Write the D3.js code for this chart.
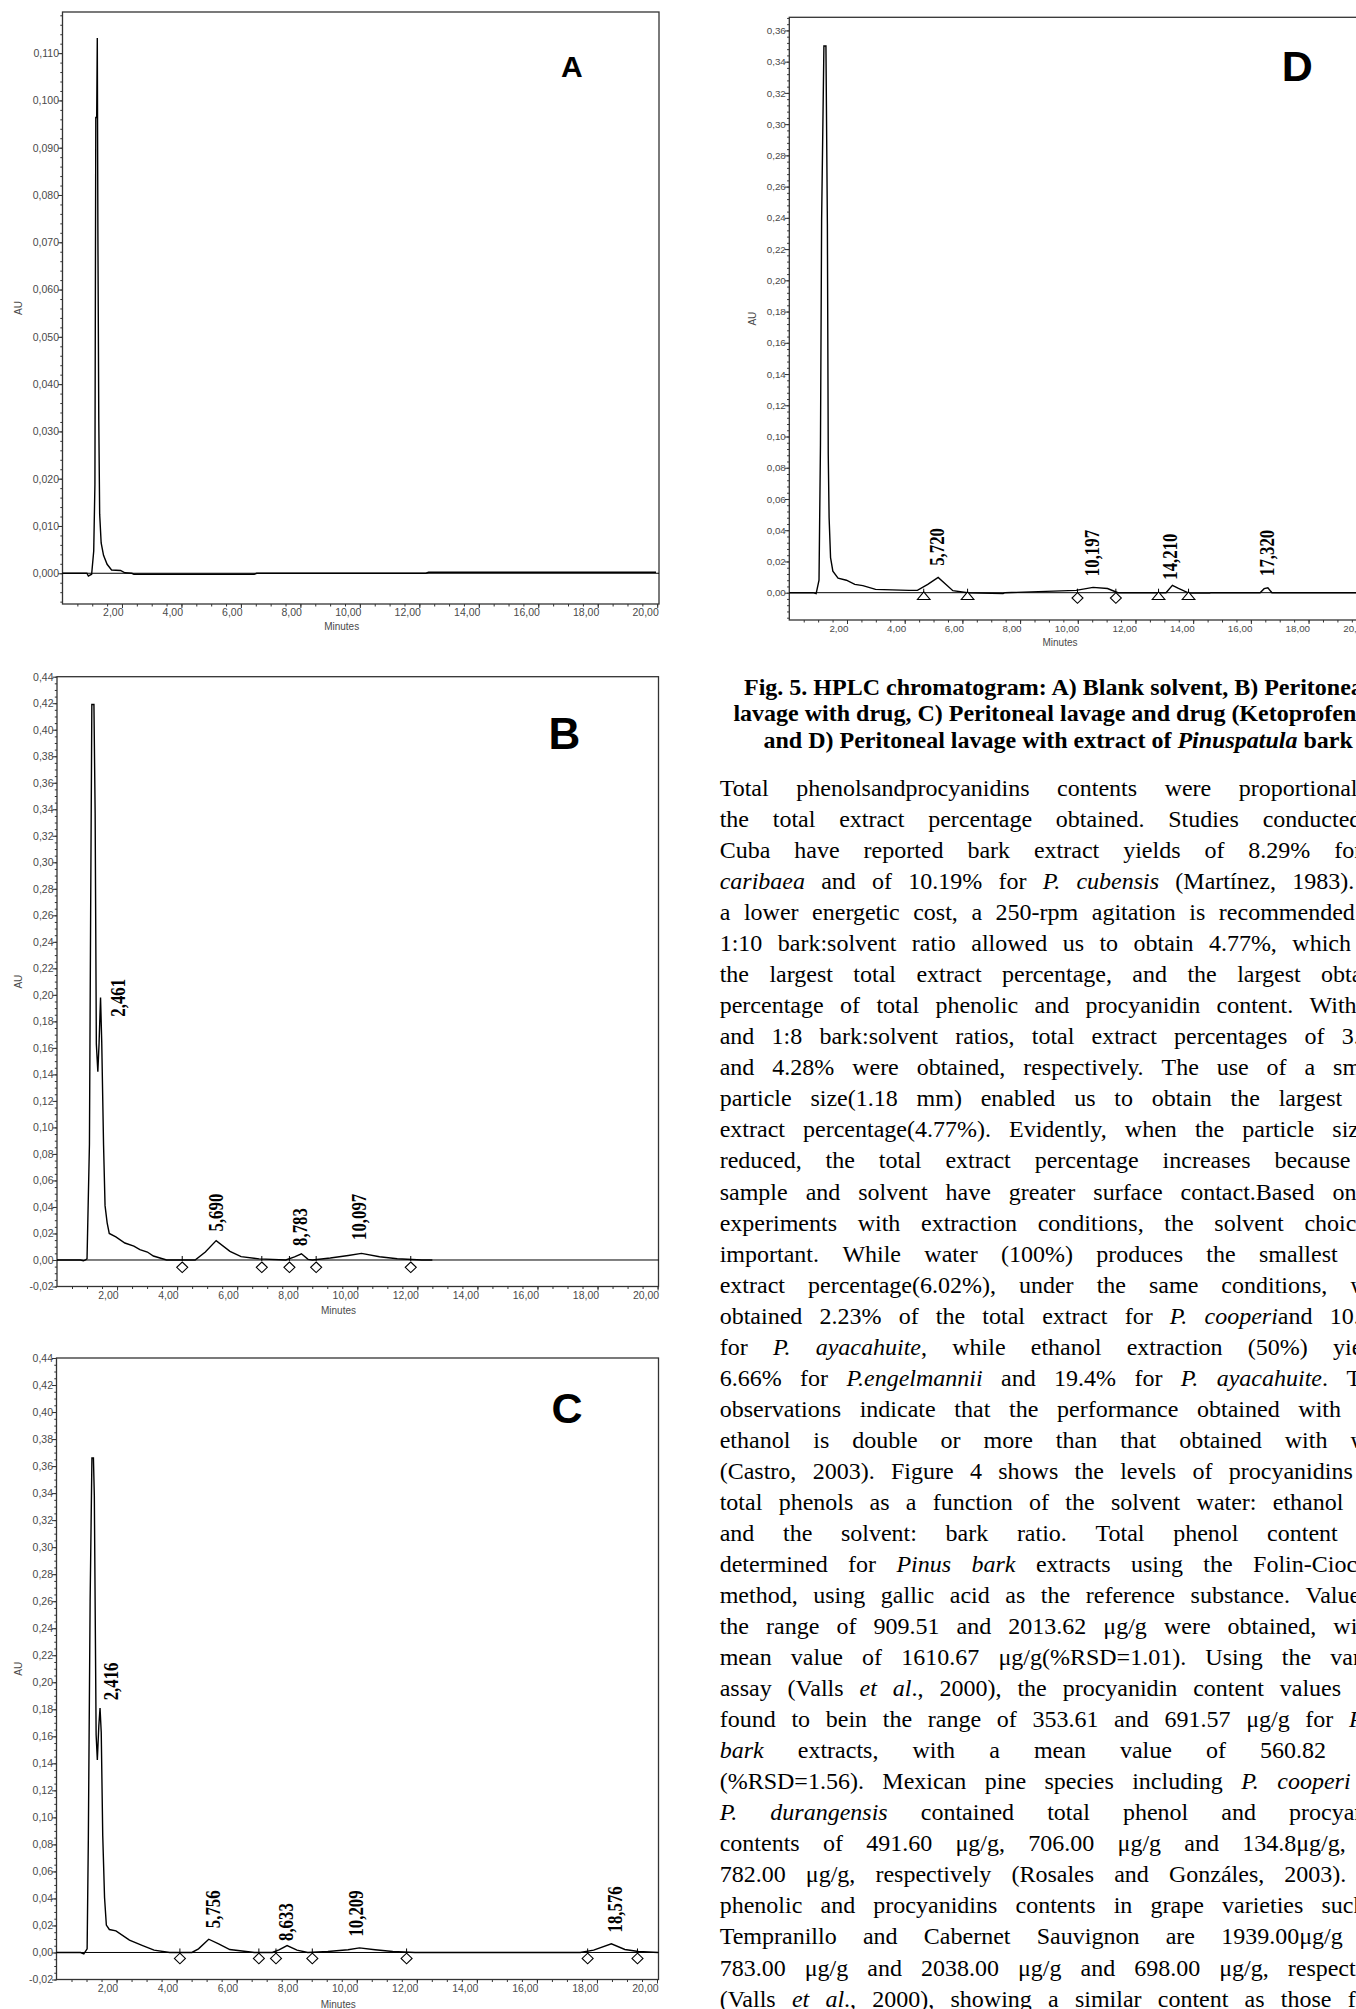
<!DOCTYPE html>
<html>
<head>
<meta charset="utf-8">
<script src="https://cdn.jsdelivr.net/npm/d3@7"></script>
<style>
html, body { margin: 0; padding: 0; background: #fff; }
body { width: 1356px; height: 2009px; overflow: hidden; }
svg { display: block; }
</style>
</head>
<body>
<script>
'use strict';

// ---- values ----
var minuteTicks = [2, 4, 6, 8, 10, 12, 14, 16, 18, 20];
var auTicksA = [0, 0.01, 0.02, 0.03, 0.04, 0.05, 0.06, 0.07, 0.08, 0.09, 0.10, 0.11];
var auTicksBC = [-0.02, 0, 0.02, 0.04, 0.06, 0.08, 0.10, 0.12, 0.14, 0.16, 0.18, 0.20, 0.22,
    0.24, 0.26, 0.28, 0.30, 0.32, 0.34, 0.36, 0.38, 0.40, 0.42, 0.44];
var auTicksD = [0, 0.02, 0.04, 0.06, 0.08, 0.10, 0.12, 0.14, 0.16, 0.18, 0.20, 0.22, 0.24,
    0.26, 0.28, 0.30, 0.32, 0.34, 0.36];

// traces: [minutes, AU]
var traceA = [[0, 0], [0.82, 0], [0.87, -0.0006], [0.98, -0.0002], [1.05, 0.0047], [1.09, 0.0187],
    [1.12, 0.0964], [1.15, 0.0964], [1.17, 0.1132], [1.19, 0.0725], [1.22, 0.0325], [1.25, 0.0125],
    [1.30, 0.0064], [1.38, 0.0038], [1.50, 0.0019], [1.65, 0.0007], [1.95, 0.0006], [2.10, 0.0001],
    [2.33, 0], [2.40, -0.0002], [6.45, -0.0002], [6.53, 0], [12.22, 0], [12.31, 0.0002], [19.96, 0.0002]];

var traceB = [[0, 0], [0.78, 0], [0.88, -0.0006], [0.95, 0], [1.00, 0.001], [1.08, 0.087], [1.12, 0.261],
    [1.16, 0.419], [1.23, 0.419], [1.27, 0.337], [1.31, 0.163], [1.36, 0.142], [1.40, 0.163], [1.45, 0.198],
    [1.49, 0.164], [1.55, 0.087], [1.60, 0.041], [1.67, 0.028], [1.74, 0.020], [1.96, 0.0174], [2.26, 0.0128],
    [2.56, 0.0104], [2.76, 0.0078], [3.01, 0.006], [3.21, 0.003], [3.65, 0], [4.60, 0], [4.94, 0.006],
    [5.30, 0.0146], [5.76, 0.0065], [6.13, 0.0025], [6.73, 0.0008], [7.62, 0], [7.91, 0.0024], [8.14, 0.0047],
    [8.36, 0.0005], [8.51, 0], [9.10, 0.0015], [9.70, 0.0034], [10.14, 0.005], [10.74, 0.0024], [11.33, 0.0009],
    [12.15, 0], [12.50, 0]];

var traceC = [[0, 0], [0.80, 0], [0.91, -0.001], [1.02, 0.0027], [1.06, 0.083], [1.12, 0.26], [1.18, 0.366],
    [1.23, 0.366], [1.26, 0.338], [1.32, 0.161], [1.36, 0.1425], [1.41, 0.168], [1.45, 0.181], [1.49, 0.163],
    [1.54, 0.0865], [1.60, 0.0407], [1.66, 0.0203], [1.76, 0.017], [1.98, 0.016], [2.43, 0.0092], [2.87, 0.0051],
    [3.25, 0.0017], [3.77, 0], [4.51, 0], [4.73, 0.0027], [5.07, 0.0098], [5.40, 0.0064], [5.77, 0.0022],
    [6.59, 0], [7.19, 0], [7.41, 0.002], [7.68, 0.0051], [8.01, 0.0017], [8.37, 0], [9.04, 0.0007],
    [9.71, 0.002], [10.09, 0.0034], [10.61, 0.002], [11.20, 0.0007], [11.94, 0], [17.44, 0], [17.89, 0.0017],
    [18.48, 0.0064], [18.93, 0.0022], [19.38, 0.0007], [20.04, 0]];

var traceD = [[0, 0], [0.82, 0], [0.93, -0.0006], [1.03, 0.008], [1.08, 0.094], [1.12, 0.238], [1.20, 0.35],
    [1.27, 0.35], [1.32, 0.236], [1.35, 0.089], [1.38, 0.048], [1.43, 0.0225], [1.51, 0.0138], [1.69, 0.0093],
    [1.98, 0.008], [2.27, 0.0053], [2.55, 0.0045], [2.99, 0.0021], [4.15, 0.0015], [4.44, 0.0015],
    [4.80, 0.0053], [5.16, 0.0098], [5.67, 0.0013], [6.18, 0], [7.41, -0.0006], [7.48, 0], [9.94, 0.0015],
    [10.53, 0.0034], [11.03, 0.0027], [11.39, 0], [13.06, 0], [13.28, 0.0047], [13.49, 0.0027],
    [13.85, -0.0003], [14.58, -0.0003], [14.62, 0], [16.32, 0], [16.46, 0.0026], [16.59, 0.0032],
    [16.73, 0], [20.05, 0]];

// peak labels: where the rotated text starts, [minutes, AU]
var peaksB = [{ t: 2.04, au: 0.1835, name: '2,461' }, { t: 5.29, au: 0.0215, name: '5,690' },
    { t: 8.09, au: 0.0106, name: '8,783' }, { t: 10.07, au: 0.0151, name: '10,097' }];
var peaksC = [{ t: 1.83, au: 0.1866, name: '2,416' }, { t: 5.22, au: 0.018, name: '5,756' },
    { t: 7.66, au: 0.0085, name: '8,633' }, { t: 9.98, au: 0.0118, name: '10,209' },
    { t: 18.6, au: 0.0148, name: '18,576' }];
var peaksD = [{ t: 5.12, au: 0.0172, name: '5,720' }, { t: 10.49, au: 0.0106, name: '10,197' },
    { t: 13.21, au: 0.0083, name: '14,210' }, { t: 16.56, au: 0.0107, name: '17,320' }];

// integration marks (minutes)
var diamondsB = [4.17, 6.82, 7.74, 8.63, 11.78];
var diamondsC = [4.11, 6.74, 7.31, 8.52, 11.66, 17.69, 19.35];
var diamondsD = [9.99, 11.32];
var trianglesD = [4.66, 6.18, 12.80, 13.84];

var captionLines = [
    'Fig. 5. HPLC chromatogram: A) Blank solvent, B) Peritoneal',
    'lavage with drug, C) Peritoneal lavage and drug (Ketoprofen)',
    'and D) Peritoneal lavage with extract of _Pinuspatula_ bark'
];

var bodyLines = [
    'Total phenolsandprocyanidins contents were proportional to',
    'the total extract percentage obtained. Studies conducted in',
    'Cuba have reported bark extract yields of 8.29% for _P._',
    '_caribaea_ and of 10.19% for _P. cubensis_ (Martínez, 1983). For',
    'a lower energetic cost, a 250-rpm agitation is recommended. An',
    '1:10 bark:solvent ratio allowed us to obtain 4.77%, which was',
    'the largest total extract percentage, and the largest obtained',
    'percentage of total phenolic and procyanidin content. With 1:6',
    'and 1:8 bark:solvent ratios, total extract percentages of 3.91%',
    'and 4.28% were obtained, respectively. The use of a smaller',
    'particle size(1.18 mm) enabled us to obtain the largest total',
    'extract percentage(4.77%). Evidently, when the particle size is',
    'reduced, the total extract percentage increases because the',
    'sample and solvent have greater surface contact.Based on the',
    'experiments with extraction conditions, the solvent choice is',
    'important. While water (100%) produces the smallest total',
    'extract percentage(6.02%), under the same conditions, water',
    'obtained 2.23% of the total extract for _P. cooperi_and 10.69%',
    'for _P. ayacahuite_, while ethanol extraction (50%) yielded',
    '6.66% for _P.engelmannii_ and 19.4% for _P. ayacahuite_. These',
    'observations indicate that the performance obtained with 50%',
    'ethanol is double or more than that obtained with water',
    '(Castro, 2003). Figure 4 shows the levels of procyanidins and',
    'total phenols as a function of the solvent water: ethanol ratio',
    'and the solvent: bark ratio. Total phenol content was',
    'determined for _Pinus bark_ extracts using the Folin-Ciocalteu',
    'method, using gallic acid as the reference substance. Values in',
    'the range of 909.51 and 2013.62 μg/g were obtained, with a',
    'mean value of 1610.67 μg/g(%RSD=1.01). Using the vanillin',
    'assay (Valls _et al_., 2000), the procyanidin content values were',
    'found to bein the range of 353.61 and 691.57 μg/g for _Pinus_',
    '_bark_ extracts, with a mean value of 560.82 μg/g',
    '(%RSD=1.56). Mexican pine species including _P. cooperi_ and',
    '_P. durangensis_ contained total phenol and procyanidin',
    'contents of 491.60 μg/g, 706.00 μg/g and 134.8μg/g, and',
    '782.00 μg/g, respectively (Rosales and Gonzáles, 2003). The',
    'phenolic and procyanidins contents in grape varieties such as',
    'Tempranillo and Cabernet Sauvignon are 1939.00μg/g and',
    '783.00 μg/g and 2038.00 μg/g and 698.00 μg/g, respectively',
    '(Valls _et al_., 2000), showing a similar content as those found'
];

// ---- layout ----
var SANS = "'Liberation Sans', Arial, sans-serif";
var SERIF = "'Liberation Serif', 'Times New Roman', serif";
var INK = '#333';

var panels = [
    { letter: 'A', letterX: 561, letterY: 76.7, letterSize: 30,
        frame: { l: 62.5, t: 12, r: 659, b: 604 }, xDomain: [0, 20.06], yDomain: [-0.0065, 0.1187],
        yTicks: auTicksA, yMinor: 0.002, digits: 3, fontSize: 10.5, auX: 18, minutesY: 626,
        trace: traceA, peaks: [], diamonds: [], triangles: [], markOffset: 0 },
    { letter: 'B', letterX: 548.6, letterY: 749, letterSize: 44,
        frame: { l: 57, t: 676.7, r: 658.5, b: 1286.5 }, xDomain: [0, 20.03], yDomain: [-0.02, 0.44],
        yTicks: auTicksBC, yMinor: 0.005, digits: 2, fontSize: 10.5, auX: 18, minutesY: 1310.6,
        trace: traceB, peaks: peaksB, diamonds: diamondsB, triangles: [], markOffset: 7.3 },
    { letter: 'C', letterX: 551.5, letterY: 1423, letterSize: 43,
        frame: { l: 56.5, t: 1358, r: 658.5, b: 1979.5 }, xDomain: [0, 20.05], yDomain: [-0.02, 0.44],
        yTicks: auTicksBC, yMinor: 0.005, digits: 2, fontSize: 10.5, auX: 18, minutesY: 2004,
        trace: traceC, peaks: peaksC, diamonds: diamondsC, triangles: [], markOffset: 6 },
    { letter: 'D', letterX: 1281.7, letterY: 80.8, letterSize: 43,
        frame: { l: 789.3, t: 17.3, r: 1367.7, b: 620 }, xDomain: [0, 20.05], yDomain: [-0.01748, 0.3684],
        yTicks: auTicksD, yMinor: 0.004, digits: 2, fontSize: 9.8, auX: 752, minutesY: 642.5,
        trace: traceD, peaks: peaksD, diamonds: diamondsD, triangles: trianglesD, markOffset: 5.3 }
];

function fmtAU(digits) {
    return function (v) {
        var s = Math.abs(v).toFixed(digits).replace('.', ',');
        return (v < -1e-9 ? '-' : '') + s;
    };
}

function fmtMinutes(v) {
    return v.toFixed(2).replace('.', ',');
}

function steps(lo, hi, step) {
    var out = [];
    for (var k = Math.ceil(lo / step - 1e-6); k * step <= hi + 1e-9; k++) out.push(+(k * step).toFixed(6));
    return out;
}

function styleAxis(sel, size) {
    sel.attr('font-family', SANS).attr('font-size', size);
    sel.select('.domain').remove();
    sel.selectAll('line').attr('stroke', INK).attr('stroke-width', 1);
    sel.selectAll('text').attr('fill', '#4a4a4a');
}

function drawPanel(svg, p) {
    var f = p.frame;
    var x = d3.scaleLinear().domain(p.xDomain).range([f.l, f.r]);
    var y = d3.scaleLinear().domain(p.yDomain).range([f.b, f.t]);
    var g = svg.append('g').attr('class', 'panel-' + p.letter);

    // minor + major ticks, y
    g.append('g').attr('transform', 'translate(' + f.l + ',0)')
        .call(d3.axisLeft(y).tickValues(steps(p.yDomain[0], p.yDomain[1], p.yMinor)).tickSize(2.2).tickFormat(''))
        .call(styleAxis, p.fontSize);
    g.append('g').attr('transform', 'translate(' + f.l + ',0)')
        .call(d3.axisLeft(y).tickValues(p.yTicks).tickSize(4.5).tickPadding(-1).tickFormat(fmtAU(p.digits)))
        .call(styleAxis, p.fontSize);

    // minor + major ticks, x
    g.append('g').attr('transform', 'translate(0,' + f.b + ')')
        .call(d3.axisBottom(x).tickValues(steps(0.5, 20, 0.5)).tickSize(2.5).tickFormat(''))
        .call(styleAxis, p.fontSize);
    g.append('g').attr('transform', 'translate(0,' + f.b + ')')
        .call(d3.axisBottom(x).tickValues(minuteTicks).tickSize(4).tickPadding(1).tickFormat(fmtMinutes))
        .call(styleAxis, p.fontSize)
        .selectAll('text').attr('text-anchor', 'end').attr('dx', '0.1em');

    // frame
    g.append('rect').attr('x', f.l).attr('y', f.t).attr('width', f.r - f.l).attr('height', f.b - f.t)
        .attr('fill', 'none').attr('stroke', INK).attr('stroke-width', 1.3);

    // axis titles
    g.append('text').attr('x', f.l + 0.468 * (f.r - f.l)).attr('y', p.minutesY).attr('dy', '0.35em')
        .attr('text-anchor', 'middle').attr('font-family', SANS).attr('font-size', 10)
        .attr('fill', '#4a4a4a').text('Minutes');
    g.append('text').attr('transform', 'translate(' + p.auX + ',' + (f.t + f.b) / 2 + ') rotate(-90)')
        .attr('dy', '0.35em').attr('text-anchor', 'middle').attr('font-family', SANS)
        .attr('font-size', 10).attr('fill', '#4a4a4a').text('AU');

    // zero line and trace
    g.append('line').attr('x1', f.l).attr('x2', f.r).attr('y1', y(0)).attr('y2', y(0))
        .attr('stroke', '#000').attr('stroke-width', 1);
    g.append('path').datum(p.trace)
        .attr('d', d3.line().x(function (d) { return x(d[0]); }).y(function (d) { return y(d[1]); }))
        .attr('fill', 'none').attr('stroke', '#000').attr('stroke-width', 1.4);

    // integration marks
    var y0 = y(0);
    g.selectAll('.drop').data(p.diamonds.concat(p.triangles)).enter().append('line')
        .attr('x1', function (d) { return x(d); }).attr('x2', function (d) { return x(d); })
        .attr('y1', y0 - 4).attr('y2', y0 + 1).attr('stroke', '#000').attr('stroke-width', 1);
    g.selectAll('.diamond').data(p.diamonds).enter().append('path')
        .attr('d', function (d) {
            var cx = x(d), cy = y0 + p.markOffset;
            return ['M', cx, cy - 5.3, 'L', cx + 5.5, cy, 'L', cx, cy + 5.3, 'L', cx - 5.5, cy, 'Z'].join(' ');
        })
        .attr('fill', '#fff').attr('stroke', '#000').attr('stroke-width', 1.1);
    g.selectAll('.triangle').data(p.triangles).enter().append('path')
        .attr('d', function (d) {
            var cx = x(d), top = y0 - 0.8;
            return ['M', cx, top, 'L', cx + 6.3, top + 7.6, 'L', cx - 6.3, top + 7.6, 'Z'].join(' ');
        })
        .attr('fill', '#fff').attr('stroke', '#000').attr('stroke-width', 1.1);

    // retention time labels: bold serif squeezed to the printed length
    g.selectAll('.peak').data(p.peaks).enter().append('text')
        .attr('transform', function (d) { return 'translate(' + x(d.t) + ',' + y(d.au) + ') rotate(-90)'; })
        .attr('dy', '0.33em').attr('font-family', SERIF).attr('font-weight', 'bold')
        .attr('font-size', 21).attr('fill', '#000')
        .attr('textLength', function (d) {
            var commas = d.name.split(',').length - 1;
            return 19.5 * ((d.name.length - commas) * 0.43 + commas * 0.22);
        })
        .attr('lengthAdjust', 'spacingAndGlyphs')
        .text(function (d) { return d.name; });

    // panel letter
    g.append('text').attr('x', p.letterX).attr('y', p.letterY).attr('font-family', SANS)
        .attr('font-weight', 'bold').attr('font-size', p.letterSize).attr('fill', '#000').text(p.letter);
}

// split "_italic_" markup into words made of styled pieces
function tokenize(line) {
    var words = [[]];
    line.split('_').forEach(function (seg, i) {
        seg.split(' ').forEach(function (piece, j) {
            if (j > 0) words.push([]);
            if (piece) words[words.length - 1].push({ text: piece, italic: i % 2 === 1 });
        });
    });
    return words.filter(function (w) { return w.length; });
}

function appendPieces(sel, pieces) {
    pieces.forEach(function (pc) {
        sel.append('tspan').attr('font-style', pc.italic ? 'italic' : 'normal').text(pc.text);
    });
}

function drawCaption(svg) {
    var starts = [744, 733.4, 763.5];
    var baselines = [694.5, 721, 747.5];
    captionLines.forEach(function (line, i) {
        var t = svg.append('text').attr('x', starts[i]).attr('y', baselines[i]).attr('font-family', SERIF)
            .attr('font-weight', 'bold').attr('font-size', 24).attr('fill', '#000')
            .attr('xml:space', 'preserve');
        var pieces = [];
        line.split('_').forEach(function (seg, k) { if (seg) pieces.push({ text: seg, italic: k % 2 === 1 }); });
        appendPieces(t, pieces);
    });
}

// justified body text, each line stretched to the column width
function drawBody(svg) {
    var left = 719.7, width = 684, top = 796, lead = 31.04;
    bodyLines.forEach(function (line, i) {
        var g = svg.append('g').attr('font-family', SERIF).attr('font-size', 24).attr('fill', '#000');
        var words = tokenize(line).map(function (w) {
            var t = g.append('text').attr('y', top + i * lead);
            appendPieces(t, w);
            return { node: t, w: t.node().getComputedTextLength() };
        });
        var used = d3.sum(words, function (d) { return d.w; });
        var gap = (width - used) / Math.max(1, words.length - 1);
        var pos = left;
        words.forEach(function (d) {
            d.node.attr('x', pos);
            pos += d.w + gap;
        });
    });
}

var svg = d3.select('body').append('svg').attr('width', 1356).attr('height', 2009);
svg.append('rect').attr('width', 1356).attr('height', 2009).attr('fill', '#fff');
panels.forEach(function (p) { drawPanel(svg, p); });
drawCaption(svg);
drawBody(svg);
</script>
</body>
</html>
